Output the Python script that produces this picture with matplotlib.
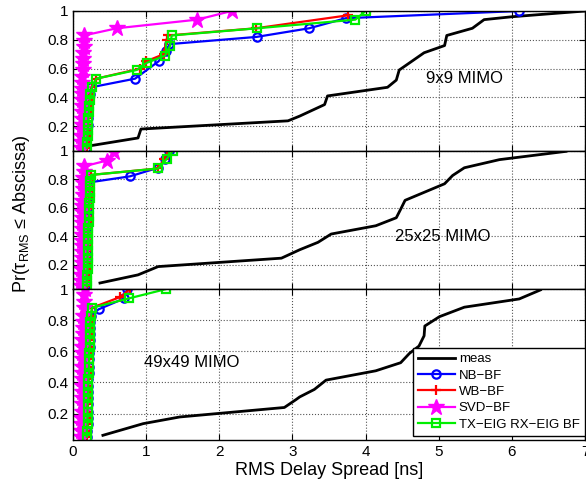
import numpy as np
import matplotlib
matplotlib.use("Agg")
import matplotlib.pyplot as plt
from matplotlib.ticker import FixedLocator, FormatStrFormatter

plt.rcParams['font.family'] = ['Liberation Sans', 'DejaVu Sans']
plt.rcParams['mathtext.fontset'] = 'custom'
plt.rcParams['mathtext.rm'] = 'Liberation Sans'
plt.rcParams['mathtext.it'] = 'Liberation Sans:italic'

# ---- 9x9 MIMO ----
meas9_x = [0.14, 0.89, 0.93, 2.94, 3.10, 3.44, 3.48, 4.30, 4.42, 4.46, 4.80, 5.08, 5.11, 5.46, 5.62, 6.00, 7.00]
meas9_y = [0.056, 0.118, 0.18, 0.237, 0.27, 0.35, 0.41, 0.47, 0.52, 0.59, 0.71, 0.76, 0.83, 0.88, 0.94, 0.96, 1.0]
nb9_x = [0.18, 0.18, 0.19, 0.19, 0.20, 0.20, 0.21, 0.21, 0.22, 0.23, 0.25, 0.85, 1.17, 1.27, 1.32, 2.51, 3.23, 3.73, 6.10]
nb9_y = [0.05, 0.09, 0.13, 0.17, 0.21, 0.26, 0.30, 0.34, 0.38, 0.42, 0.47, 0.53, 0.65, 0.72, 0.77, 0.82, 0.88, 0.95, 1.0]
wb9_x = [0.19, 0.19, 0.20, 0.20, 0.21, 0.21, 0.22, 0.22, 0.23, 0.24, 0.26, 0.32, 0.92, 1.00, 1.24, 1.28, 1.30, 2.50, 3.76]
wb9_y = [0.05, 0.09, 0.13, 0.17, 0.21, 0.26, 0.30, 0.34, 0.38, 0.42, 0.47, 0.53, 0.60, 0.65, 0.70, 0.80, 0.83, 0.88, 0.97]
svd9_x = [0.11, 0.11, 0.11, 0.12, 0.12, 0.12, 0.12, 0.12, 0.13, 0.13, 0.13, 0.13, 0.13, 0.14, 0.14, 0.14, 0.14, 0.15, 0.15, 0.15, 0.60, 1.70, 2.17]
svd9_y = [0.05, 0.09, 0.13, 0.17, 0.21, 0.25, 0.30, 0.34, 0.38, 0.42, 0.46, 0.50, 0.54, 0.59, 0.63, 0.67, 0.71, 0.75, 0.79, 0.83, 0.88, 0.94, 1.0]
tx9_x = [0.19, 0.19, 0.20, 0.20, 0.21, 0.21, 0.22, 0.22, 0.23, 0.24, 0.26, 0.32, 0.87, 1.01, 1.26, 1.33, 1.35, 2.52, 3.86, 4.00]
tx9_y = [0.05, 0.09, 0.13, 0.17, 0.21, 0.26, 0.30, 0.34, 0.38, 0.42, 0.47, 0.53, 0.59, 0.64, 0.69, 0.76, 0.83, 0.88, 0.94, 1.0]

# ---- 25x25 MIMO ----
meas25_x = [0.37, 0.89, 1.165, 2.85, 3.10, 3.35, 3.53, 4.14, 4.42, 4.48, 4.54, 5.08, 5.19, 5.35, 5.83, 6.74]
meas25_y = [0.073, 0.13, 0.188, 0.247, 0.306, 0.358, 0.416, 0.474, 0.53, 0.59, 0.652, 0.768, 0.826, 0.88, 0.937, 0.995]
nb25_x = [0.17, 0.17, 0.17, 0.17, 0.18, 0.18, 0.18, 0.18, 0.18, 0.18, 0.18, 0.19, 0.19, 0.19, 0.19, 0.19, 0.19, 0.19, 0.19, 0.78, 1.165, 1.26, 1.32]
nb25_y = [0.05, 0.09, 0.13, 0.17, 0.21, 0.25, 0.29, 0.33, 0.37, 0.41, 0.45, 0.49, 0.53, 0.57, 0.61, 0.65, 0.69, 0.73, 0.775, 0.82, 0.88, 0.94, 1.0]
wb25_x = [0.19, 0.19, 0.19, 0.20, 0.20, 0.20, 0.20, 0.21, 0.21, 0.21, 0.21, 0.22, 0.22, 0.22, 0.22, 0.23, 0.23, 0.23, 0.24, 0.25, 1.16, 1.25, 1.30]
wb25_y = [0.05, 0.09, 0.13, 0.17, 0.21, 0.25, 0.30, 0.34, 0.38, 0.42, 0.46, 0.50, 0.54, 0.59, 0.63, 0.67, 0.71, 0.75, 0.79, 0.83, 0.875, 0.94, 1.0]
svd25_x = [0.11, 0.11, 0.11, 0.11, 0.12, 0.12, 0.12, 0.12, 0.12, 0.12, 0.13, 0.13, 0.13, 0.13, 0.13, 0.13, 0.14, 0.14, 0.14, 0.14, 0.15, 0.15, 0.46, 0.56]
svd25_y = [0.05, 0.09, 0.13, 0.17, 0.21, 0.25, 0.29, 0.33, 0.37, 0.41, 0.45, 0.49, 0.53, 0.57, 0.61, 0.65, 0.69, 0.73, 0.77, 0.81, 0.85, 0.89, 0.93, 0.99]
tx25_x = [0.19, 0.19, 0.19, 0.20, 0.20, 0.20, 0.20, 0.21, 0.21, 0.21, 0.21, 0.22, 0.22, 0.22, 0.22, 0.23, 0.23, 0.23, 0.24, 0.25, 1.165, 1.28, 1.37]
tx25_y = [0.05, 0.09, 0.13, 0.17, 0.21, 0.25, 0.30, 0.34, 0.38, 0.42, 0.46, 0.50, 0.54, 0.59, 0.63, 0.67, 0.71, 0.75, 0.79, 0.83, 0.875, 0.94, 1.0]

# ---- 49x49 MIMO ----
meas49_x = [0.41, 0.96, 1.46, 2.89, 3.05, 3.10, 3.30, 3.46, 4.14, 4.48, 4.60, 4.73, 4.80, 4.81, 5.01, 5.35, 6.10, 6.39]
meas49_y = [0.06, 0.135, 0.178, 0.239, 0.29, 0.307, 0.355, 0.415, 0.475, 0.527, 0.587, 0.634, 0.70, 0.763, 0.823, 0.884, 0.937, 0.995]
nb49_x = [0.19, 0.19, 0.20, 0.20, 0.20, 0.20, 0.21, 0.21, 0.21, 0.21, 0.22, 0.22, 0.22, 0.22, 0.23, 0.23, 0.23, 0.24, 0.24, 0.25, 0.35, 0.70, 0.74]
nb49_y = [0.05, 0.09, 0.13, 0.17, 0.21, 0.26, 0.30, 0.34, 0.38, 0.42, 0.46, 0.50, 0.55, 0.59, 0.63, 0.67, 0.71, 0.75, 0.79, 0.83, 0.87, 0.94, 1.0]
wb49_x = [0.19, 0.19, 0.20, 0.20, 0.20, 0.20, 0.21, 0.21, 0.21, 0.21, 0.22, 0.22, 0.22, 0.22, 0.23, 0.23, 0.23, 0.24, 0.24, 0.25, 0.26, 0.65, 0.78]
wb49_y = [0.05, 0.09, 0.13, 0.17, 0.21, 0.26, 0.30, 0.34, 0.38, 0.42, 0.46, 0.50, 0.55, 0.59, 0.63, 0.67, 0.71, 0.75, 0.79, 0.83, 0.88, 0.95, 1.0]
svd49_x = [0.11, 0.11, 0.11, 0.11, 0.12, 0.12, 0.12, 0.12, 0.12, 0.12, 0.13, 0.13, 0.13, 0.13, 0.13, 0.13, 0.14, 0.14, 0.14, 0.14, 0.15, 0.15, 0.15, 0.16]
svd49_y = [0.05, 0.09, 0.13, 0.17, 0.21, 0.26, 0.30, 0.34, 0.38, 0.42, 0.46, 0.50, 0.55, 0.59, 0.63, 0.67, 0.71, 0.75, 0.79, 0.83, 0.88, 0.92, 0.96, 1.0]
tx49_x = [0.19, 0.19, 0.20, 0.20, 0.20, 0.20, 0.21, 0.21, 0.21, 0.21, 0.22, 0.22, 0.22, 0.22, 0.23, 0.23, 0.23, 0.24, 0.24, 0.25, 0.26, 0.76, 1.27]
tx49_y = [0.05, 0.09, 0.13, 0.17, 0.21, 0.26, 0.30, 0.34, 0.38, 0.42, 0.46, 0.50, 0.55, 0.59, 0.63, 0.67, 0.71, 0.75, 0.79, 0.83, 0.88, 0.94, 1.0]

panel_titles = ["9x9 MIMO", "25x25 MIMO", "49x49 MIMO"]
title_pos = [(5.35, 0.53), (5.05, 0.40), (1.62, 0.53)]
legend_labels = ["meas", "NB\u2212BF", "WB\u2212BF", "SVD\u2212BF", "TX\u2212EIG RX\u2212EIG BF"]

panels = [
    (meas9_x, meas9_y, nb9_x, nb9_y, wb9_x, wb9_y, svd9_x, svd9_y, tx9_x, tx9_y),
    (meas25_x, meas25_y, nb25_x, nb25_y, wb25_x, wb25_y, svd25_x, svd25_y, tx25_x, tx25_y),
    (meas49_x, meas49_y, nb49_x, nb49_y, wb49_x, wb49_y, svd49_x, svd49_y, tx49_x, tx49_y),
]

fig = plt.figure(figsize=(5.86, 4.91), dpi=100)
left, width = 0.1244, 0.874
bounds = [0.9776, 0.6932, 0.4111, 0.1039]

for i, data in enumerate(panels):
    ax = fig.add_axes([left, bounds[i + 1], width, bounds[i] - bounds[i + 1]])
    mx, my, nx, ny, wx, wy, sx, sy, tx, ty = data
    h = []
    h += ax.plot(mx, my, color='black', lw=2)
    h += ax.plot(nx, ny, color='blue', lw=1.6, marker='o', ms=6, mfc='none', mew=1.6)
    h += ax.plot(wx, wy, color='red', lw=1.6, marker='+', ms=7, mew=1.6)
    h += ax.plot(sx, sy, color='magenta', lw=1.6, marker='*', ms=12, mew=1)
    h += ax.plot(tx, ty, color='#00ee00', lw=1.6, marker='s', ms=6, mfc='none', mew=1.6)

    ax.set_xlim(0, 7)
    ax.set_ylim(0.03, 1)
    ax.yaxis.set_major_locator(FixedLocator([0.2, 0.4, 0.6, 0.8, 1.0]))
    ax.yaxis.set_major_formatter(FormatStrFormatter('%g'))
    ax.xaxis.set_major_locator(FixedLocator(range(8)))
    ax.tick_params(direction='in', top=True, right=True, length=4, labelsize=11)
    ax.grid(True, linestyle=':', color='#555555', lw=0.8)
    for s in ax.spines.values():
        s.set_linewidth(1.0)
    if i < 2:
        ax.tick_params(labelbottom=False)
    ax.text(title_pos[i][0], title_pos[i][1], panel_titles[i], ha='center', va='center', fontsize=12)

    if i == 2:
        ax.set_xlabel("RMS Delay Spread [ns]", fontsize=13, labelpad=2)
        leg = ax.legend(h, legend_labels, loc='lower right', bbox_to_anchor=(1.0, 0.027),
                        fontsize=9.5, handlelength=2.8, handletextpad=0.3,
                        fancybox=False, framealpha=1, edgecolor='black', borderaxespad=0,
                        labelspacing=0.31, borderpad=0.4)
        leg.get_frame().set_linewidth(1.0)

fig.text(0.037, 0.564, "Pr(\u03c4$_{\\rm RMS}$ \u2264 Abscissa)", rotation=90,
         ha='center', va='center', fontsize=13)

fig.savefig("out.png", dpi=100)
